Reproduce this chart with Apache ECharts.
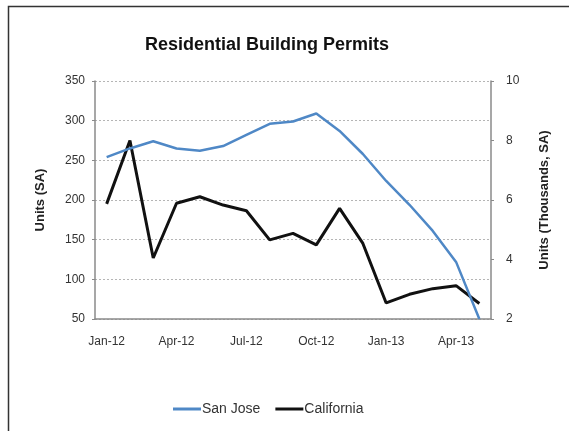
<!DOCTYPE html>
<html>
<head>
<meta charset="utf-8">
<script src="https://cdn.jsdelivr.net/npm/echarts@6/dist/echarts.min.js"></script>
<style>
  html, body { margin: 0; padding: 0; background: #fff; }
  #chart { width: 569px; height: 431px; }
</style>
</head>
<body>
<div id="chart"></div>
<script>
// Monthly permits, seasonally adjusted
const months = ['Jan-12','Feb-12','Mar-12','Apr-12','May-12','Jun-12','Jul-12','Aug-12','Sep-12',
                'Oct-12','Nov-12','Dec-12','Jan-13','Feb-13','Mar-13','Apr-13','May-13'];
const sanJose = [254, 265, 274, 265, 262, 268, 282, 296, 299, 309, 287, 258, 224, 194, 161, 122, 50];
const california = [5.87, 8.0, 4.05, 5.89, 6.11, 5.83, 5.64, 4.66, 4.88, 4.49, 5.72, 4.54, 2.54, 2.83, 3.02, 3.12, 2.52];
const leftTicks = { min: 50, max: 350, interval: 50 };
const rightTicks = { min: 2, max: 10, interval: 2 };

const font = 'Liberation Sans, Arial, Helvetica, sans-serif';
const axisGray = '#8a8a8a';

const chart = echarts.init(document.getElementById('chart'), null, { renderer: 'canvas' });
chart.setOption({
  animation: false,
  backgroundColor: '#fff',
  textStyle: { fontFamily: font },
  graphic: [{
    type: 'rect',
    shape: { x: 8.5, y: 6.5, width: 700, height: 600 },
    style: { fill: 'none', stroke: '#333', lineWidth: 1.5 },
    silent: true, z: -1
  }],
  title: {
    text: 'Residential Building Permits',
    left: 262, top: 31, textAlign: 'center',
    textStyle: { fontFamily: font, fontSize: 18, fontWeight: 'bold', color: '#111' }
  },
  legend: {
    bottom: 10, left: 168,
    itemWidth: 28, itemHeight: 3, itemGap: 15,
    icon: 'rect',
    textStyle: { fontFamily: font, fontSize: 14, color: '#333', padding: [0, 0, 0, -4] },
    data: ['San Jose', 'California']
  },
  grid: { left: 95, right: 78, top: 81, bottom: 112 },
  xAxis: {
    type: 'category',
    data: months,
    boundaryGap: true,
    axisLine: { lineStyle: { color: axisGray, width: 1.5 } },
    axisTick: { interval: 2, length: 3, lineStyle: { color: axisGray } },
    axisLabel: { interval: 2, color: '#333', fontSize: 12, margin: 17, fontFamily: font }
  },
  yAxis: [{
    type: 'value',
    min: leftTicks.min, max: leftTicks.max, interval: leftTicks.interval,
    name: 'Units (SA)',
    nameLocation: 'middle', nameGap: 48, nameRotate: 90,
    nameTextStyle: { fontFamily: font, fontSize: 13, fontWeight: 'bold', color: '#222' },
    axisLine: { show: true, lineStyle: { color: axisGray, width: 1.5 } },
    axisTick: { show: true, length: 3, lineStyle: { color: axisGray } },
    axisLabel: { color: '#333', fontSize: 12, margin: 10, fontFamily: font },
    splitLine: { show: true, lineStyle: { color: '#b5b5b5', type: [2, 2], width: 1 } }
  }, {
    type: 'value',
    min: rightTicks.min, max: rightTicks.max, interval: rightTicks.interval,
    name: 'Units (Thousands, SA)',
    nameLocation: 'middle', nameGap: 47, nameRotate: 90,
    nameTextStyle: { fontFamily: font, fontSize: 13, fontWeight: 'bold', color: '#222' },
    axisLine: { show: true, lineStyle: { color: axisGray, width: 1.5 } },
    axisTick: { show: true, length: 3, lineStyle: { color: axisGray } },
    axisLabel: { color: '#333', fontSize: 12, margin: 15, fontFamily: font },
    splitLine: { show: false }
  }],
  series: [{
    name: 'San Jose',
    type: 'line',
    yAxisIndex: 0,
    data: sanJose,
    symbol: 'none',
    color: '#4f88c6',
    lineStyle: { color: '#4f88c6', width: 2.5 },
    z: 3
  }, {
    name: 'California',
    type: 'line',
    yAxisIndex: 1,
    data: california,
    symbol: 'none',
    color: '#111',
    lineStyle: { color: '#111', width: 3 },
    z: 2
  }]
});
</script>
</body>
</html>
